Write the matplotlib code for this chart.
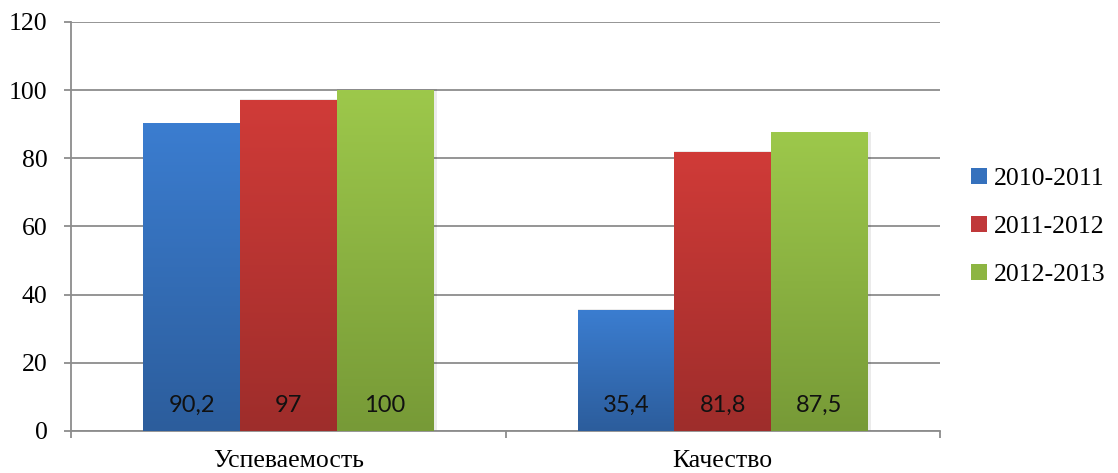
import numpy as np
import matplotlib
matplotlib.use("Agg")
import matplotlib.pyplot as plt
from matplotlib.colors import LinearSegmentedColormap
from matplotlib.patches import Patch
from matplotlib.font_manager import FontProperties, findfont

categories = ["Успеваемость", "Качество"]
series_names = ["2010-2011", "2011-2012", "2012-2013"]
values_2010 = [90.2, 35.4]
values_2011 = [97, 81.8]
values_2012 = [100, 87.5]
value_labels = [["90,2", "35,4"], ["97", "81,8"], ["100", "87,5"]]
y_ticks = [0, 20, 40, 60, 80, 100, 120]

series_values = [values_2010, values_2011, values_2012]
top_colors = ["#3B7DD0", "#D03B38", "#9DC84B"]
bot_colors = ["#2C5D9C", "#9E2D2B", "#779A37"]
mid_colors = ["#3571BD", "#C0383A", "#8DB542"]

serif_path = findfont(FontProperties(family="Liberation Serif"))
sans_path = findfont(FontProperties(family="Lato"))
plt.rcParams["font.family"] = "Liberation Serif"


def serif(size=18.5):
    return FontProperties(fname=serif_path, size=size)


def sans(size=17):
    return FontProperties(fname=sans_path, size=size)


fig = plt.figure(figsize=(11.18, 4.73), dpi=100)
ax = fig.add_axes([0.0635, 0.0888, 0.7773, 0.8647])

bw = 0.2225
x = np.arange(len(categories))

grad = np.linspace(1, 0, 256).reshape(-1, 1)
for i, vals in enumerate(series_values):
    cmap = LinearSegmentedColormap.from_list("g%d" % i, [bot_colors[i], top_colors[i]])
    for j, v in enumerate(vals):
        xc = x[j] + (i - 1) * bw
        x0, x1 = xc - bw / 2, xc + bw / 2
        ax.bar(xc + 0.004, v + 0.3, width=bw + 0.008, color="#000000", alpha=0.08,
               zorder=2, linewidth=0)
        ax.imshow(grad, extent=(x0, x1, 0, v), aspect="auto", cmap=cmap,
                  zorder=3, interpolation="bilinear", origin="upper")
        ax.text(xc, 7.6, value_labels[i][j], ha="center", va="center",
                fontproperties=sans(), color="#111111", zorder=5)

ax.set_aspect("auto")
ax.set_xlim(-0.5, 1.5)
ax.set_ylim(0, 120)

ax.set_yticks(y_ticks)
ax.yaxis.grid(True, color="#8C8C8C", linewidth=1.3, zorder=1)
ax.set_axisbelow(True)

ax.set_xticks(x)
ax.set_xticks([-0.5, 0.5, 1.5], minor=True)
ax.tick_params(axis="x", which="major", length=0, pad=14)
ax.tick_params(axis="x", which="minor", length=5, width=1.3, color="#8C8C8C")
ax.tick_params(axis="y", length=5, width=1.3, color="#8C8C8C", pad=12)

ax.set_yticklabels([str(t) for t in y_ticks])
ax.set_xticklabels(categories)
for lab in ax.get_yticklabels() + ax.get_xticklabels():
    lab.set_fontproperties(serif())

for s in ["top", "right"]:
    ax.spines[s].set_visible(False)
for s in ["left", "bottom"]:
    ax.spines[s].set_color("#8C8C8C")
    ax.spines[s].set_linewidth(1.3)

handles = [Patch(facecolor=mid_colors[i], edgecolor="none") for i in range(3)]
fig.legend(handles, series_names, loc="center left", bbox_to_anchor=(0.848, 0.52),
           frameon=False, prop=serif(),
           handlelength=0.6, handleheight=0.6, handletextpad=0.3, labelspacing=1.0)

fig.savefig("out.png", dpi=100)
